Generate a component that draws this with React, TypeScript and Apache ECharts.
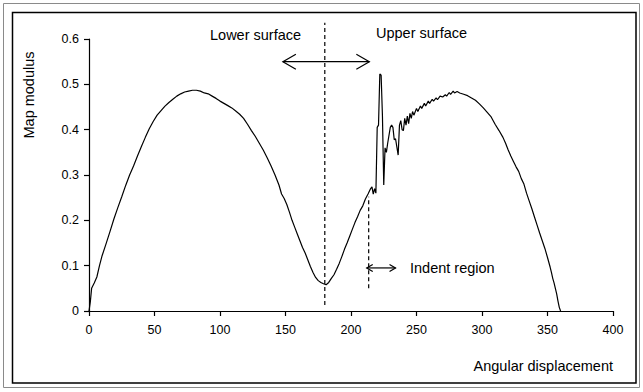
import React, { useEffect, useRef } from "react";
import * as echarts from "echarts";

// Angular position (degrees) and the map modulus measured around the profile
const angles = [
  0, 1, 2, 4, 6, 8, 10, 13, 16, 19, 22, 25, 28, 31, 34, 37, 40, 43, 46, 49,
  52, 55, 58, 61, 64, 67, 70, 73, 76, 79, 82, 85, 88, 91, 94, 97, 100, 103, 106, 109,
  112, 115, 118, 121, 124, 127, 130, 133, 136, 139, 142, 145, 147, 149, 151, 153, 155, 157, 159, 161,
  163, 165, 167, 169, 171, 173, 175, 177, 179, 181, 183, 185, 187, 189, 191, 193, 195, 197, 199, 201,
  203, 205, 207, 209, 211, 213, 215, 216, 217, 218, 219, 220, 221, 222, 223, 224, 225, 226, 227, 228,
  230, 231, 232, 233, 234, 236, 237, 238, 239, 240, 241, 242, 243, 244, 245, 246, 247, 248, 250, 251,
  253, 254, 256, 257, 259, 260, 262, 263, 265, 266, 268, 270, 272, 273, 275, 276, 278, 279, 281, 283,
  286, 289, 292, 295, 298, 301, 304, 307, 310, 313, 316, 318, 320, 322, 324, 326, 328, 330, 332, 334,
  336, 338, 340, 342, 344, 346, 348, 350, 352, 353, 354, 355, 356, 357, 358, 359, 360,
];

const modulus = [
  0, 0.02, 0.05, 0.062, 0.075, 0.1, 0.122, 0.148, 0.175, 0.203, 0.228, 0.252, 0.277, 0.3, 0.32, 0.342, 0.363, 0.383, 0.402, 0.418,
  0.432, 0.442, 0.452, 0.46, 0.467, 0.474, 0.479, 0.483, 0.485, 0.487, 0.487, 0.485, 0.481, 0.479, 0.474, 0.469, 0.463, 0.458, 0.453, 0.448,
  0.441, 0.434, 0.425, 0.412, 0.398, 0.385, 0.37, 0.355, 0.338, 0.32, 0.3, 0.278, 0.258, 0.248, 0.235, 0.218, 0.2, 0.185, 0.17, 0.155,
  0.14, 0.128, 0.113, 0.098, 0.085, 0.074, 0.067, 0.063, 0.06, 0.058, 0.063, 0.072, 0.08, 0.092, 0.105, 0.12, 0.136, 0.15, 0.165, 0.18,
  0.195, 0.208, 0.222, 0.232, 0.247, 0.258, 0.27, 0.274, 0.258, 0.27, 0.26, 0.405, 0.41, 0.523, 0.52, 0.43, 0.278, 0.36, 0.35, 0.37,
  0.405, 0.41, 0.405, 0.378, 0.38, 0.344, 0.41, 0.42, 0.4, 0.398, 0.425, 0.41, 0.43, 0.413, 0.436, 0.425, 0.44, 0.432, 0.447, 0.44,
  0.452, 0.447, 0.458, 0.452, 0.463, 0.458, 0.467, 0.463, 0.47, 0.466, 0.474, 0.472, 0.477, 0.474, 0.482, 0.478, 0.485, 0.481, 0.484, 0.481,
  0.478, 0.475, 0.47, 0.465, 0.457, 0.448, 0.438, 0.428, 0.412, 0.398, 0.383, 0.37, 0.355, 0.342, 0.33, 0.318, 0.308, 0.292, 0.28, 0.26,
  0.243, 0.226, 0.208, 0.19, 0.172, 0.155, 0.138, 0.118, 0.097, 0.085, 0.072, 0.062, 0.05, 0.038, 0.022, 0.008, 0,
];

// Axis ranges
const xRange = [0, 400, 50];
const yRange = [0, 0.6, 0.1];

// Annotation geometry, in data units
const dividerAngle = 180; // lower / upper surface boundary
const dividerSpan = [0.013, 0.636];
const indentAngle = 213.5; // start of the indent region
const indentSpan = [0.05, 0.252];
const surfaceArrow = [148, 214, 0.55]; // from, to, level
const indentArrow = [212, 234, 0.095];

const FONT = "'Liberation Sans', Arial, sans-serif";

export default function App() {
  const ref = useRef<HTMLDivElement>(null);

  useEffect(() => {
    if (!ref.current) return;
    const chart = echarts.init(ref.current, null, { renderer: "svg" });

    chart.setOption({
      animation: false,
      grid: { left: 89, right: 30, top: 39, bottom: 81 },
      xAxis: {
        type: "value",
        min: xRange[0],
        max: xRange[1],
        interval: xRange[2],
        axisLine: { lineStyle: { color: "#000", width: 1.2 } },
        axisTick: { length: 5, lineStyle: { color: "#000", width: 1.2 } },
        axisLabel: { color: "#000", fontSize: 12.5, fontFamily: FONT, margin: 12 },
        splitLine: { show: false },
      },
      yAxis: {
        type: "value",
        min: yRange[0],
        max: yRange[1],
        interval: yRange[2],
        axisLine: { show: true, lineStyle: { color: "#000", width: 1.2 } },
        axisTick: { show: true, length: 5, lineStyle: { color: "#000", width: 1.2 } },
        axisLabel: { color: "#000", fontSize: 12.5, fontFamily: FONT, margin: 10 },
        splitLine: { show: false },
      },
      series: [
        {
          type: "line",
          data: angles.map((a, i) => [a, modulus[i]]),
          symbol: "none",
          lineStyle: { color: "#000", width: 1.2 },
        },
      ],
    });

    const px = (x: number, y: number) =>
      chart.convertToPixel({ gridIndex: 0 }, [x, y]) as number[];

    const dashed = (x: number, span: number[]) => {
      const a = px(x, span[0]);
      const b = px(x, span[1]);
      return {
        type: "line",
        shape: { x1: a[0], y1: a[1], x2: b[0], y2: b[1] },
        style: { stroke: "#000", lineWidth: 1.2, lineDash: [4, 3] },
      };
    };

    const doubleArrow = (spec: number[], hw: number, hh: number) => {
      const a = px(spec[0], spec[2]);
      const b = px(spec[1], spec[2]);
      const st = { stroke: "#000", lineWidth: 1.2, fill: null };
      return [
        { type: "line", shape: { x1: a[0], y1: a[1], x2: b[0], y2: b[1] }, style: st },
        {
          type: "polyline",
          shape: { points: [[a[0] + hw, a[1] - hh], [a[0], a[1]], [a[0] + hw, a[1] + hh]] },
          style: st,
        },
        {
          type: "polyline",
          shape: { points: [[b[0] - hw, b[1] - hh], [b[0], b[1]], [b[0] - hw, b[1] + hh]] },
          style: st,
        },
      ];
    };

    const label = (text: string, x: number, y: number) => ({
      type: "text",
      x,
      y,
      style: {
        text,
        fill: "#000",
        font: `14.5px ${FONT}`,
        textAlign: "left",
        textVerticalAlign: "middle",
      },
    });

    chart.setOption({
      graphic: [
        {
          type: "rect",
          shape: { x: 3.5, y: 3.5, width: 636, height: 384 },
          style: { stroke: "#8a8a8a", lineWidth: 1, fill: null },
        },
        {
          type: "rect",
          shape: { x: 12.5, y: 12.5, width: 623.5, height: 370.5 },
          style: { stroke: "#000", lineWidth: 1.5, fill: null },
        },
        dashed(dividerAngle, dividerSpan),
        dashed(indentAngle, indentSpan),
        ...doubleArrow(surfaceArrow, 13, 7.5),
        ...doubleArrow(indentArrow, 6, 3.5),
        label("Lower surface", 210, 35),
        label("Upper surface", 376, 33),
        label("Indent region", 410, 268),
        {
          type: "text",
          x: 613,
          y: 366,
          style: {
            text: "Angular displacement",
            fill: "#000",
            font: `14.5px ${FONT}`,
            textAlign: "right",
            textVerticalAlign: "middle",
          },
        },
        {
          type: "text",
          x: 29,
          y: 95,
          rotation: Math.PI / 2,
          style: {
            text: "Map modulus",
            fill: "#000",
            font: `14.5px ${FONT}`,
            textAlign: "center",
            textVerticalAlign: "middle",
          },
        },
      ],
    });

    return () => chart.dispose();
  }, []);

  return (
    <div
      ref={ref}
      style={{ position: "fixed", left: 0, top: 0, width: 643, height: 392, background: "#fff" }}
    />
  );
}
